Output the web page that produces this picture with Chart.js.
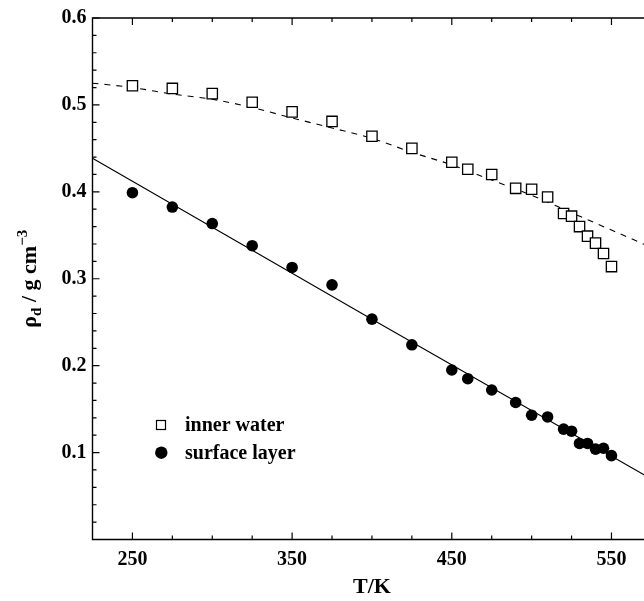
<!DOCTYPE html>
<html><head><meta charset="utf-8">
<script src="https://cdn.jsdelivr.net/npm/chart.js@4/dist/chart.umd.min.js"></script>
<style>
html,body{margin:0;padding:0;background:#fff;overflow:hidden;width:644px;height:601px}
#wrap{position:absolute;left:0;top:0;width:660px;height:601px}
</style></head><body>
<div id="wrap"><canvas id="c" width="660" height="601"></canvas></div>
<script>
// ---- data ----
const innerT = [250,275,300,325,350,375,400,425,450,460,475,490,500,510,520,525,530,535,540,545,550];
const innerRho = [0.522,0.519,0.513,0.503,0.492,0.481,0.464,0.450,0.434,0.426,0.420,0.404,0.403,0.394,0.375,0.372,0.360,0.349,0.341,0.329,0.314];
const surfaceT = [250,275,300,325,350,375,400,425,450,460,475,490,500,510,520,525,530,535,540,545,550];
const surfaceRho = [0.399,0.3825,0.3635,0.338,0.313,0.293,0.2535,0.224,0.195,0.185,0.172,0.1576,0.143,0.141,0.127,0.1246,0.1105,0.1105,0.104,0.105,0.0965];
const innerFitT = [225,250,275,300,325,350,375,400,425,450,475,500,525,550,575];
const innerFitRho = [0.525,0.520,0.5125,0.5065,0.497,0.485,0.4735,0.4615,0.4455,0.431,0.4135,0.396,0.376,0.356,0.336];
const surfaceFitT = [225,400,575];
const surfaceFitRho = [0.4386,0.2535,0.0696];
const xTickLabels = [250,350,450,550];
const xMinorTicks = [275,300,325,375,400,425,475,500,525,575];
const yTickLabels = [0.1,0.2,0.3,0.4,0.5,0.6];
const yMinorTicks = [0.02,0.04,0.06,0.08,0.12,0.14,0.16,0.18,0.22,0.24,0.26,0.28,0.32,0.34,0.36,0.38,0.42,0.44,0.46,0.48,0.52,0.54,0.56,0.58];
const seriesNames = ['inner water','surface layer'];
const xTitle = 'T/K';

const pts = (xs, ys) => xs.map((x, i) => ({x: x, y: ys[i]}));
const SERIF = '"Liberation Serif","Times New Roman",serif';

const framePlugin = {
  id: 'frame',
  afterDraw(chart) {
    const ctx = chart.ctx, a = chart.chartArea;
    const xs = chart.scales.x, ys = chart.scales.y;
    ctx.save();
    ctx.strokeStyle = '#000';
    ctx.lineWidth = 1.4;
    ctx.beginPath();
    ctx.moveTo(a.left, a.top); ctx.lineTo(a.right, a.top);
    ctx.lineTo(a.right, a.bottom); ctx.lineTo(a.left, a.bottom);
    ctx.closePath();
    ctx.stroke();
    ctx.lineWidth = 1.2;
    const MAJ = 7, MIN = 4;
    ctx.beginPath();
    const xt = (v, L) => {
      const p = xs.getPixelForValue(v);
      ctx.moveTo(p, a.bottom); ctx.lineTo(p, a.bottom - L);
      ctx.moveTo(p, a.top); ctx.lineTo(p, a.top + L);
    };
    const yt = (v, L) => {
      const p = ys.getPixelForValue(v);
      ctx.moveTo(a.left, p); ctx.lineTo(a.left + L, p);
      ctx.moveTo(a.right, p); ctx.lineTo(a.right - L, p);
    };
    xTickLabels.forEach(v => xt(v, MAJ));
    xMinorTicks.forEach(v => xt(v, MIN));
    yTickLabels.forEach(v => yt(v, MAJ));
    yMinorTicks.forEach(v => yt(v, MIN));
    ctx.stroke();

    // x title
    ctx.fillStyle = '#000';
    ctx.font = 'bold 22px ' + SERIF;
    ctx.textAlign = 'center';
    ctx.textBaseline = 'middle';
    ctx.fillText(xTitle, (a.left + a.right) / 2, 587);

    // y title: rho_d / g cm^-3
    const big = 'bold 22px ' + SERIF, small = 'bold 15px ' + SERIF;
    const segs = [['ρ', big, 0], ['d', small, 5], [' / g cm', big, 0], ['−3', small, -9]];
    let total = 0;
    segs.forEach(s => { ctx.font = s[1]; total += ctx.measureText(s[0]).width; });
    ctx.save();
    ctx.translate(36, (a.top + a.bottom) / 2 + total / 2);
    ctx.rotate(-Math.PI / 2);
    ctx.textAlign = 'left';
    ctx.textBaseline = 'alphabetic';
    let cx = 0;
    segs.forEach(s => { ctx.font = s[1]; ctx.fillText(s[0], cx, s[2]); cx += ctx.measureText(s[0]).width; });
    ctx.restore();

    // legend
    ctx.lineWidth = 1.2;
    ctx.fillStyle = '#fff';
    ctx.strokeStyle = '#000';
    ctx.fillRect(156.5, 420.5, 9, 9);
    ctx.strokeRect(156.5, 420.5, 9, 9);
    ctx.fillStyle = '#000';
    ctx.beginPath(); ctx.arc(161.3, 452.7, 6.2, 0, Math.PI * 2); ctx.fill();
    ctx.font = 'bold 20px ' + SERIF;
    ctx.textAlign = 'left';
    ctx.textBaseline = 'alphabetic';
    ctx.fillText(seriesNames[0], 185, 431);
    ctx.fillText(seriesNames[1], 185, 459);
    ctx.restore();
  }
};

new Chart(document.getElementById('c'), {
  type: 'scatter',
  data: {
    datasets: [
      {label: seriesNames[0], data: pts(innerT, innerRho), pointStyle: 'rect', pointRadius: 7.3,
       pointBackgroundColor: '#fff', pointBorderColor: '#000', pointBorderWidth: 1.3, showLine: false},
      {label: seriesNames[1], data: pts(surfaceT, surfaceRho), pointStyle: 'circle', pointRadius: 5.8,
       pointBackgroundColor: '#000', pointBorderColor: '#000', pointBorderWidth: 0, showLine: false},
      {label: 'inner fit', data: pts(innerFitT, innerFitRho), showLine: true, pointRadius: 0,
       borderColor: '#000', borderWidth: 1.1, borderDash: [6, 6], cubicInterpolationMode: 'monotone', fill: false},
      {label: 'surface fit', data: pts(surfaceFitT, surfaceFitRho), showLine: true, pointRadius: 0,
       borderColor: '#000', borderWidth: 1.1, tension: 0, fill: false}
    ]
  },
  options: {
    responsive: false,
    animation: false,
    events: [],
    layout: {padding: {top: 12, right: 7.3, left: 0, bottom: 0}},
    plugins: {legend: {display: false}, tooltip: {enabled: false}},
    scales: {
      x: {
        type: 'linear', min: 225, max: 575,
        afterBuildTicks: s => { s.ticks = xTickLabels.map(v => ({value: v})); },
        afterFit: s => { s.height = 61.5; },
        grid: {display: false, drawTicks: false},
        border: {display: false},
        ticks: {color: '#000', padding: 8, font: {family: SERIF, size: 20, weight: 'bold'},
                autoSkip: false, maxRotation: 0, callback: v => String(v)}
      },
      y: {
        type: 'linear', min: 0, max: 0.6,
        afterBuildTicks: s => { s.ticks = yTickLabels.map(v => ({value: v})); },
        afterFit: s => { s.width = 92.5; },
        grid: {display: false, drawTicks: false},
        border: {display: false},
        ticks: {color: '#000', padding: 6, font: {family: SERIF, size: 20, weight: 'bold'},
                autoSkip: false, callback: v => Number(v).toFixed(1)}
      }
    }
  },
  plugins: [framePlugin]
});
</script>
</body></html>
